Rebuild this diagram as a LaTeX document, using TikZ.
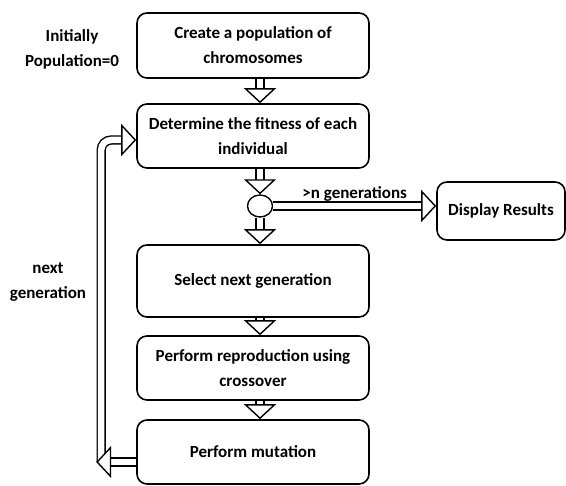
\documentclass[tikz,border=0pt]{standalone}
\usepackage{fontspec}
\setmainfont{Carlito}
\usetikzlibrary{arrows.meta, positioning, shapes.geometric}

\begin{document}
\begin{tikzpicture}[
  x=1pt, y=-1pt,
  font=\bfseries\fontsize{17}{25}\selectfont,
  procbox/.style = {draw, line width=1.6pt, rounded corners=10pt, minimum width=232pt, align=center, inner sep=0pt},
  hollow/.style = {double, double distance=6.5pt, line width=1.4pt, -{Triangle[open, fill=white, length=15pt, width=32pt]}},
  plain/.style = {align=center, inner sep=0pt}
  ]
  \useasboundingbox (0,0) rectangle (566,486);
  \node[procbox, minimum height=65pt] (create) at (253,45.5) {Create a population of\\chromosomes};
  \node[procbox, minimum height=64pt] (fit) at (253,136) {Determine the fitness of each\\individual};
  \node[draw, ellipse, line width=1.4pt, minimum width=25pt, minimum height=22pt, inner sep=0pt] (dec) at (260,206) {};
  \node[procbox, minimum height=72pt] (select) at (253,281) {Select next generation};
  \node[procbox, minimum height=64pt] (repro) at (253,368) {Perform reproduction using\\crossover};
  \node[procbox, minimum height=64pt] (mutate) at (253,452) {Perform mutation};
  \node[procbox, minimum width=128pt, minimum height=58pt] (display) at (501,211) {Display Results};
  \node[plain] (init) at (72,49) {Initially\\Population=0};
  \node[plain] (nextgen) at (48,282) {next\\generation};
  \coordinate (loopend) at ([xshift=-40pt,yshift=-10pt]mutate.west);
  % main flow
  \draw[hollow] (create.south -| dec) -- (fit.north -| dec);
  \draw[hollow] (fit.south -| dec) -- (dec.north);
  \draw[hollow] (dec.south) -- (select.north -| dec);
  \draw[hollow] (select.south -| dec) -- (repro.north -| dec);
  \draw[hollow] (repro.south -| dec) -- (mutate.north -| dec);
  \draw[hollow] (dec.east) -- node[above=1pt] {>n generations} (dec.east -| display.west);
  % feedback loop
  \draw[hollow, rounded corners=10pt] ([xshift=5pt]loopend) |- ([yshift=-4pt]fit.west);
  \draw[hollow] ([yshift=-10pt]mutate.west) -- (loopend);
\end{tikzpicture}
\end{document}
